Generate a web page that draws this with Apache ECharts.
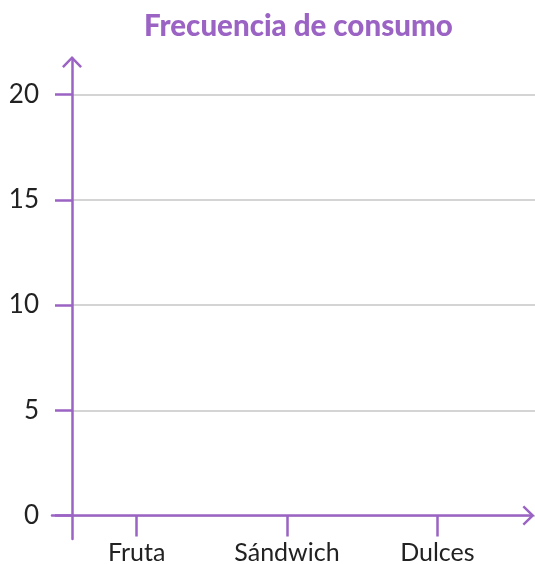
<!DOCTYPE html>
<html>
<head>
<meta charset="utf-8">
<script src="https://cdn.jsdelivr.net/npm/echarts@6/dist/echarts.min.js"></script>
<style>
html,body{margin:0;padding:0;background:#fff;}
#chart{width:535px;height:564px;}
</style>
</head>
<body>
<div id="chart"></div>
<script>
// Chart data
const titleText = 'Frecuencia de consumo';
const categories = ['Fruta', 'Sándwich', 'Dulces'];
const values = [null, null, null]; // empty chart: no bars drawn in the reference
const yMin = 0;
const yMax = 20;
const yInterval = 5;

const purple = '#9b63c4';
const textColor = '#222222';
const arrowPath = 'path://M0,10.3 L10,0 L20,10.3 L18.2,12 L10,3.57 L1.8,12 Z';

const chart = echarts.init(document.getElementById('chart'), null, {renderer: 'canvas'});

const gridBase = {outerBoundsMode: 'none', containLabel: false};

const option = {
  animation: false,
  backgroundColor: '#ffffff',
  title: {
    text: titleText,
    left: 139,
    top: 6,
    textStyle: {
      color: purple,
      fontFamily: 'Lato',
      fontWeight: 900,
      fontSize: 29.5
    }
  },
  grid: [
    Object.assign({left: 72, right: 0, top: 94.5, bottom: 564 - 515.5}, gridBase),
    Object.assign({left: 61.5, right: 22.5, top: 94.5, bottom: 564 - 515.5}, gridBase),
    Object.assign({left: 52, right: 3, top: 94.5, bottom: 564 - 515.5}, gridBase),
    Object.assign({left: 72, right: 0, top: 58.5, bottom: 25}, gridBase)
  ],
  xAxis: [
    {gridIndex: 0, type: 'value', show: false},
    {
      gridIndex: 1, type: 'category', data: categories, boundaryGap: true,
      axisLine: {show: false},
      axisTick: {show: true, alignWithLabel: true, length: 21, lineStyle: {color: purple, width: 2.5}},
      axisLabel: {margin: 25, color: textColor, fontFamily: 'Lato', fontSize: 25}
    },
    {
      gridIndex: 2, type: 'value', min: 0, max: 1,
      axisLine: {show: true, onZero: false, symbol: ['none', arrowPath], symbolSize: [20, 12], symbolOffset: [0, -3.5], lineStyle: {color: purple, width: 2.5}},
      axisTick: {show: false}, axisLabel: {show: false}, splitLine: {show: false}
    },
    {gridIndex: 3, type: 'value', show: false}
  ],
  yAxis: [
    {
      gridIndex: 0, type: 'value', min: yMin, max: yMax, interval: yInterval,
      axisLine: {show: false},
      axisTick: {show: true, length: 17, lineStyle: {color: purple, width: 2.5}},
      axisLabel: {margin: 33, color: textColor, fontFamily: 'Lato', fontSize: 26},
      splitLine: {show: true, lineStyle: {color: '#d4d4d4', width: 2}}
    },
    {gridIndex: 1, type: 'value', min: yMin, max: yMax, show: false},
    {gridIndex: 2, type: 'value', min: 0, max: 1, show: false},
    {
      gridIndex: 3, type: 'value', min: 0, max: 1,
      axisLine: {show: true, onZero: false, symbol: ['none', arrowPath], symbolSize: [20, 12], symbolOffset: [0, -3.5], lineStyle: {color: purple, width: 2.5}},
      axisTick: {show: false}, axisLabel: {show: false}, splitLine: {show: false}
    }
  ],
  series: [
    {type: 'bar', xAxisIndex: 1, yAxisIndex: 1, data: values, itemStyle: {color: purple}}
  ]
};

chart.setOption(option);
</script>
</body>
</html>
